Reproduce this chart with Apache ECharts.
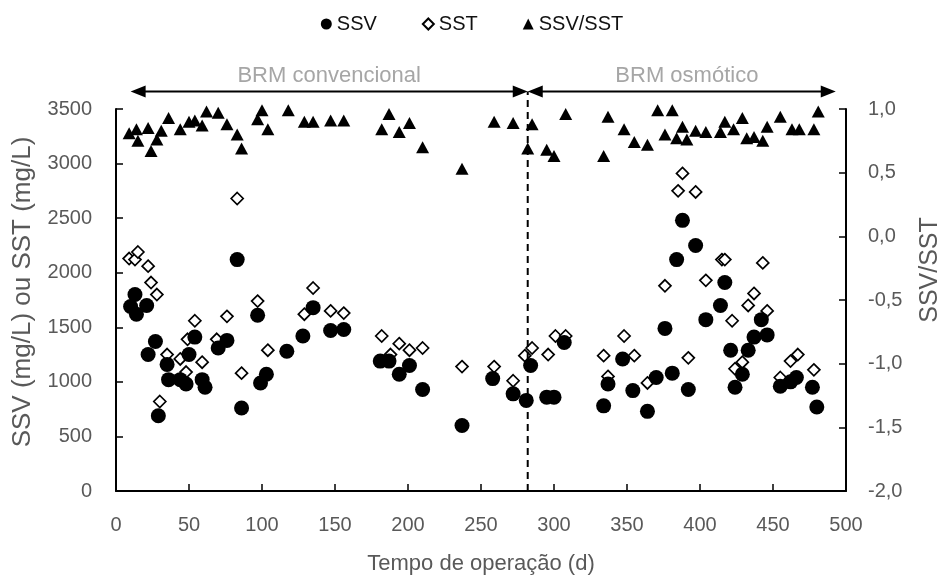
<!DOCTYPE html>
<html><head><meta charset="utf-8">
<script src="https://cdn.jsdelivr.net/npm/echarts@6/dist/echarts.min.js"></script>
<style>html,body{margin:0;padding:0;background:#fff}#c{width:944px;height:581px}</style>
</head><body><div id="c"></div>
<script>
// ---- data ----
const seriesNames = ['SSV', 'SST', 'SSV/SST'];
const ssvDays = [10,13,14,21,22,27,29,35,36,44,48,50,54,59,61,70,76,83,86,97,99,103,117,128,135,147,156,181,187,194,201,210,237,258,272,281,284,295,300,307,334,337,347,354,364,370,376,381,384,388,392,397,404,414,417,421,424,429,433,437,442,446,455,462,466,477,480];
const ssvValues = [1690,1800,1620,1700,1250,1370,690,1160,1020,1020,980,1250,1410,1020,950,1310,1380,2120,760,1610,990,1070,1280,1420,1680,1470,1480,1190,1190,1070,1150,930,600,1030,890,830,1150,860,860,1360,780,980,1210,920,730,1040,1490,1080,2120,2480,930,2250,1570,1700,1910,1290,950,1070,1290,1410,1570,1430,960,1000,1040,950,770];
const sstDays = [9,13,15,22,24,28,30,35,44,48,49,54,59,69,76,83,86,97,104,129,135,147,156,182,188,194,201,210,237,259,272,280,285,296,301,308,334,337,348,355,364,376,385,388,392,397,404,415,417,422,424,429,433,437,443,446,455,462,467,478];
const sstValues = [2130,2120,2190,2060,1910,1800,820,1250,1210,1090,1390,1560,1180,1390,1600,2680,1080,1740,1290,1620,1860,1650,1630,1420,1250,1350,1290,1310,1140,1140,1010,1240,1310,1250,1420,1420,1240,1050,1420,1240,990,1880,2750,2910,1220,2740,1930,2120,2120,1560,1120,1180,1700,1810,2090,1650,1040,1190,1250,1110];
const ratioDays = [9,14,15,22,24,28,31,36,44,50,54,59,62,70,76,83,86,97,100,104,118,129,135,147,156,182,187,194,201,210,237,259,272,282,285,295,300,308,334,337,348,355,364,371,376,381,384,388,391,397,404,414,417,423,429,432,437,443,446,455,463,468,478,481];
const ratioValues = [0.81,0.84,0.75,0.85,0.67,0.76,0.83,0.93,0.84,0.90,0.91,0.87,0.98,0.97,0.88,0.80,0.69,0.92,0.99,0.84,0.99,0.90,0.90,0.91,0.91,0.84,0.96,0.82,0.89,0.70,0.53,0.90,0.89,0.69,0.88,0.68,0.63,0.96,0.63,0.94,0.84,0.74,0.72,0.99,0.80,0.99,0.77,0.86,0.76,0.83,0.82,0.82,0.90,0.84,0.93,0.77,0.78,0.75,0.86,0.94,0.84,0.84,0.84,0.98];
const phaseLabels = ['BRM convencional', 'BRM osmótico'];
const phaseLabelDays = [146, 391];     // label centres (days)
const phaseBounds = [10, 282, 493];   // days: start, switch, end
const xTitle = 'Tempo de operação (d)';
const yLeftTitle = 'SSV (mg/L) ou SST (mg/L)';
const yRightTitle = 'SSV/SST';

// ---- chart ----
const FONT = '"Liberation Sans", Arial, Helvetica, sans-serif';
const GREY = '#595959';
const zip = (a, b) => a.map((d, i) => [d, b[i]]);
const chart = echarts.init(document.getElementById('c'));

chart.setOption({
  animation: false,
  textStyle: { fontFamily: FONT },
  legend: {
    data: seriesNames, top: 9, left: 'center', itemGap: 45,
    itemWidth: 11, itemHeight: 11,
    textStyle: { fontSize: 20, color: '#111', fontFamily: FONT }
  },
  grid: { left: 116, right: 98, top: 109, bottom: 90 },
  xAxis: {
    type: 'value', min: 0, max: 500, interval: 50,
    name: xTitle, nameLocation: 'middle', nameGap: 62,
    nameTextStyle: { fontSize: 22, color: GREY, fontFamily: FONT },
    axisLine: { onZero: false, lineStyle: { color: '#000', width: 2 } },
    axisTick: { inside: true, length: 7, lineStyle: { color: '#000', width: 1.5 } },
    axisLabel: { fontSize: 20, color: GREY, margin: 24, fontFamily: FONT },
    splitLine: { show: false }
  },
  yAxis: [{
    type: 'value', min: 0, max: 3500, interval: 500,
    axisLine: { show: true, onZero: false, lineStyle: { color: '#000', width: 2 } },
    axisTick: { show: true, inside: true, length: 7, lineStyle: { color: '#000', width: 1.5 } },
    axisLabel: { fontSize: 20, color: GREY, margin: 24, fontFamily: FONT, formatter: v => String(v) },
    splitLine: { show: false }
  }, {
    type: 'value', min: -2, max: 1, interval: 0.5, position: 'right',
    axisLine: { show: true, onZero: false, lineStyle: { color: '#000', width: 2 } },
    axisTick: { show: true, inside: true, length: 7, lineStyle: { color: '#000', width: 1.5 } },
    axisLabel: { fontSize: 20, color: GREY, margin: 22, fontFamily: FONT,
      formatter: v => v.toFixed(1).replace('.', ',') },
    splitLine: { show: false }
  }],
  series: [{
    name: 'SST', type: 'scatter', yAxisIndex: 0, z: 2,
    data: zip(sstDays, sstValues), symbol: 'diamond', symbolSize: 12,
    itemStyle: { color: '#fff', borderColor: '#000', borderWidth: 1.7, opacity: 1 }
  }, {
    name: 'SSV', type: 'scatter', yAxisIndex: 0, z: 3,
    data: zip(ssvDays, ssvValues), symbol: 'circle', symbolSize: 15,
    itemStyle: { color: '#000', opacity: 1 }
  }, {
    name: 'SSV/SST', type: 'scatter', yAxisIndex: 1, z: 4,
    data: zip(ratioDays, ratioValues), symbol: 'triangle', symbolSize: [13, 12],
    itemStyle: { color: '#000', opacity: 1 }
  }]
});

// ---- phase annotations (arrows, dashed divider, labels) and y titles ----
const px = (x, y) => chart.convertToPixel({ xAxisIndex: 0, yAxisIndex: 0 }, [x, y]);
const arrowY = 3660, labelY = 3800;
const graphics = [];
function arrowHead(tip, dir) {
  const L = 15, W = 6;
  return { type: 'polygon', shape: { points: [[tip[0], tip[1]], [tip[0] - dir * L, tip[1] - W], [tip[0] - dir * L, tip[1] + W]] }, style: { fill: '#000' }, z: 10 };
}
for (let i = 0; i < phaseLabels.length; i++) {
  const a = px(phaseBounds[i], arrowY), b = px(phaseBounds[i + 1], arrowY);
  graphics.push({ type: 'line', shape: { x1: a[0] + 4, y1: a[1], x2: b[0] - 4, y2: b[1] }, style: { stroke: '#000', lineWidth: 2 }, z: 10 });
  graphics.push(arrowHead(a, -1));
  graphics.push(arrowHead(b, 1));
  const c = px(phaseLabelDays[i], labelY);
  graphics.push({ type: 'text', x: c[0], y: c[1], style: { text: phaseLabels[i], fill: '#a6a6a6', font: '22px ' + FONT, textAlign: 'center', textVerticalAlign: 'middle' }, z: 10 });
}
const d0 = px(phaseBounds[1], 0), d1 = px(phaseBounds[1], arrowY);
graphics.push({ type: 'line', shape: { x1: d0[0], y1: d0[1], x2: d1[0], y2: d1[1] }, style: { stroke: '#000', lineWidth: 2, lineDash: [7, 5] }, z: 9 });
// rotated axis titles
graphics.push({ type: 'text', x: 23, y: 292, rotation: Math.PI / 2, style: { text: yLeftTitle, fill: GREY, font: '26px ' + FONT, textAlign: 'center', textVerticalAlign: 'middle' } });
graphics.push({ type: 'text', x: 930, y: 270, rotation: Math.PI / 2, style: { text: yRightTitle, fill: GREY, font: '25px ' + FONT, textAlign: 'center', textVerticalAlign: 'middle' } });
chart.setOption({ graphic: graphics });
</script>
</body></html>
